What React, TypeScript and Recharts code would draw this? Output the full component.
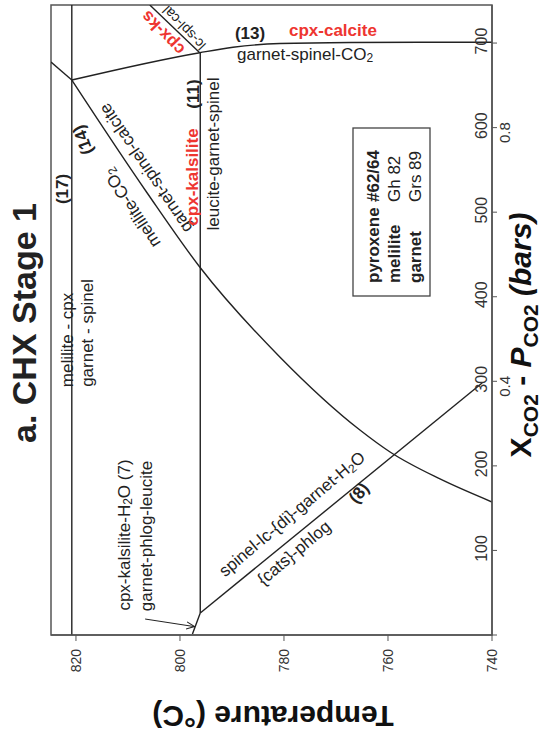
import React from 'react';
import { LineChart, Line, XAxis, YAxis, ReferenceArea } from 'recharts';

document.body.style.margin = '0';

const FONT = '"Liberation Sans", Arial, Helvetica, sans-serif';
const INK = '#222';
const FRAME = '#555';
const RED = '#ee3530';

// axes
const tempTicks = [820, 800, 780, 760, 740];
const pco2Ticks = [0, 100, 200, 300, 400, 500, 600, 700];
const xco2Ticks = [
  { p: 300, label: '0.4' },
  { p: 600, label: '0.8' },
];

// reaction curves, t = temperature (C), p = P CO2 (bars)
const line17 = [{ t: 820.8, p: 0 }, { t: 820.8, p: 745 }];
const line14ext = [{ t: 824.8, p: 677.6 }, { t: 820.8, p: 656.3 }];
const curve13 = [
  { t: 820.8, p: 656.3 },
  { t: 796.2, p: 688.6 },
  { t: 789.8, p: 695 },
  { t: 780.8, p: 699.5 },
  { t: 767.3, p: 700.7 },
  { t: 753.8, p: 700.9 },
  { t: 740, p: 700.9 },
];
const line11 = [{ t: 796.1, p: 26 }, { t: 796.1, p: 688.6 }];
const lineSplCal = [{ t: 796.2, p: 688.6 }, { t: 805.8, p: 745 }];
const line7 = [{ t: 797.6, p: 1.2 }, { t: 797.1, p: 9.5 }, { t: 796.1, p: 26 }];
const line8 = [{ t: 796.1, p: 26 }, { t: 741.9, p: 298 }];
const curve14 = [
  { t: 820.8, p: 656.3 },
  { t: 806.3, p: 522.7 },
  { t: 796.2, p: 435.2 },
  { t: 780.8, p: 328.8 },
  { t: 765.4, p: 242.4 },
  { t: 759.6, p: 216.4 },
  { t: 750, p: 184.5 },
  { t: 740, p: 157.3 },
];
const arrow7 = [{ t: 806.7, p: 18.9 }, { t: 797.2, p: 9.9 }];

const XTick = (props: any) => {
  const { x, y, payload } = props;
  return (
    <text transform={`translate(${x + 5},${y + 6}) rotate(-90)`} textAnchor="end"
      fontFamily={FONT} fontSize={14} fill="#333">
      {payload.value}
    </text>
  );
};

const YTick = (props: any) => {
  const { x, y, payload } = props;
  const sec = xco2Ticks.find(d => d.p === payload.value);
  return (
    <g>
      {payload.value > 0 && (
        <text transform={`translate(${x - 12},${y - 2}) rotate(-90)`} textAnchor="middle"
          fontFamily={FONT} fontSize={16} fill="#333">
          {payload.value}
        </text>
      )}
      {sec && (
        <text transform={`translate(${x + 11},${y + 5}) rotate(-90)`} textAnchor="middle"
          fontFamily={FONT} fontSize={15} fill="#333">
          {sec.label}
        </text>
      )}
    </g>
  );
};

const Lbl = ({ x, y, r = -90, size = 17, bold = false, color = INK, anchor = 'middle', children }: any) => (
  <text transform={`translate(${x},${y}) rotate(${r})`} textAnchor={anchor} dominantBaseline="central"
    fontFamily={FONT} fontSize={size} fontWeight={bold ? 'bold' : 'normal'} fill={color}>
    {children}
  </text>
);

const lineProps = {
  dataKey: 'p',
  stroke: INK,
  strokeWidth: 1.4,
  dot: false,
  activeDot: false,
  isAnimationActive: false,
  legendType: 'none' as const,
};

export default function App() {
  return (
    <div style={{ position: 'relative', width: 547, height: 740, background: '#fff' }}>
      <div style={{ position: 'absolute', left: 0, top: 0 }}>
        <LineChart width={547} height={740} margin={{ top: 5, right: 15, bottom: 75, left: 51 }}>
          <defs>
            <marker id="arrowHead" viewBox="0 0 10 10" refX="9" refY="5" markerWidth="9" markerHeight="9"
              markerUnits="userSpaceOnUse" orient="auto">
              <path d="M0,1 L9,5 L0,9" fill="none" stroke={INK} strokeWidth={1.2} />
            </marker>
          </defs>
          <XAxis dataKey="t" type="number" domain={[740, 824.8]} reversed allowDataOverflow
            ticks={tempTicks} height={30} tickSize={6} tickMargin={2} tick={<XTick />}
            axisLine={{ stroke: FRAME, strokeWidth: 1.5 }} tickLine={{ stroke: FRAME }} />
          <YAxis type="number" orientation="right" domain={[0, 745]} allowDataOverflow
            ticks={pco2Ticks} width={40} tickSize={5} tickMargin={2} tick={<YTick />}
            axisLine={{ stroke: FRAME, strokeWidth: 1.5 }} tickLine={{ stroke: FRAME }} />
          <ReferenceArea x1={824.8} x2={740} y1={0} y2={745} fill="none" stroke={FRAME}
            strokeWidth={1.5} ifOverflow="visible" />
          <Line data={line17} type="linear" {...lineProps} />
          <Line data={line14ext} type="linear" {...lineProps} />
          <Line data={curve13} type="monotone" {...lineProps} />
          <Line data={line11} type="linear" {...lineProps} />
          <Line data={lineSplCal} type="linear" {...lineProps} />
          <Line data={line7} type="linear" {...lineProps} />
          <Line data={line8} type="linear" {...lineProps} />
          <Line data={curve14} type="monotone" {...lineProps} />
          <Line data={arrow7} type="linear" {...lineProps} strokeWidth={1} markerEnd="url(#arrowHead)" />
        </LineChart>
      </div>
      <svg width={547} height={740} style={{ position: 'absolute', left: 0, top: 0, pointerEvents: 'none' }}>
        <Lbl x={24} y={323} size={34} bold>a. CHX Stage 1</Lbl>
        <Lbl x={62} y={189} bold>(17)</Lbl>
        <Lbl x={67} y={340}>melilite - cpx</Lbl>
        <Lbl x={87} y={333}>garnet - spinel</Lbl>
        <Lbl x={83} y={140} r={-110} bold>(14)</Lbl>
        <Lbl x={132} y={208} r={-123}>melilite-CO<tspan dy={4} fontSize={12}>2</tspan></Lbl>
        <Lbl x={146} y={168} r={-124}>garnet-spinel-calcite</Lbl>
        <Lbl x={193} y={94} bold>(11)</Lbl>
        <Lbl x={192} y={177} bold color={RED}>cpx-kalsilite</Lbl>
        <Lbl x={213} y={154}>leucite-garnet-spinel</Lbl>
        <Lbl x={184} y={28} r={-134} size={14}>lc-spl-cal</Lbl>
        <Lbl x={163} y={33} r={-134} bold color={RED}>cpx-ks</Lbl>
        <Lbl x={250} y={33} r={0} bold>(13)</Lbl>
        <Lbl x={237} y={54} r={0} anchor="start">garnet-spinel-CO<tspan dy={4} fontSize={12}>2</tspan></Lbl>
        <Lbl x={289} y={30} r={0} anchor="start" bold color={RED}>cpx-calcite</Lbl>

        <rect x={353} y={128} width={77} height={168} fill="none" stroke="#444" strokeWidth={1.3} />
        <Lbl x={373} y={283} anchor="start" bold>pyroxene</Lbl>
        <Lbl x={373} y={202} anchor="start" bold>#62/64</Lbl>
        <Lbl x={394} y={283} anchor="start" bold>melilite</Lbl>
        <Lbl x={394} y={202} anchor="start">Gh 82</Lbl>
        <Lbl x={415} y={283} anchor="start" bold>garnet</Lbl>
        <Lbl x={415} y={202} anchor="start">Grs 89</Lbl>

        <Lbl x={124} y={535}>cpx-kalsilite-H<tspan dy={4} fontSize={12}>2</tspan><tspan dy={-4}>O (7)</tspan></Lbl>
        <Lbl x={146} y={536}>garnet-phlog-leucite</Lbl>
        <Lbl x={292} y={514} r={-40}>spinel-lc-{'{di}'}-garnet-H<tspan dy={4} fontSize={12}>2</tspan><tspan dy={-4}>O</tspan></Lbl>
        <Lbl x={359} y={493} r={-50} bold>(8)</Lbl>
        <Lbl x={294} y={553} r={-40}>{'{cats}'}-phlog</Lbl>

        <text transform="translate(531,335) rotate(-90)" textAnchor="middle" fontFamily={FONT}
          fontSize={30} fontWeight="bold" fill="#111">
          X<tspan dy={7} fontSize={21}>CO2</tspan><tspan dy={-7}> - </tspan>
          <tspan fontStyle="italic">P</tspan><tspan dy={7} fontSize={21}>CO2</tspan>
          <tspan dy={-7} fontStyle="italic"> (bars)</tspan>
        </text>
        <text transform="translate(273,706) rotate(180)" textAnchor="middle" fontFamily={FONT}
          fontSize={30} fontWeight="bold" fill="#111">
          Temperature (°C)
        </text>
      </svg>
    </div>
  );
}
